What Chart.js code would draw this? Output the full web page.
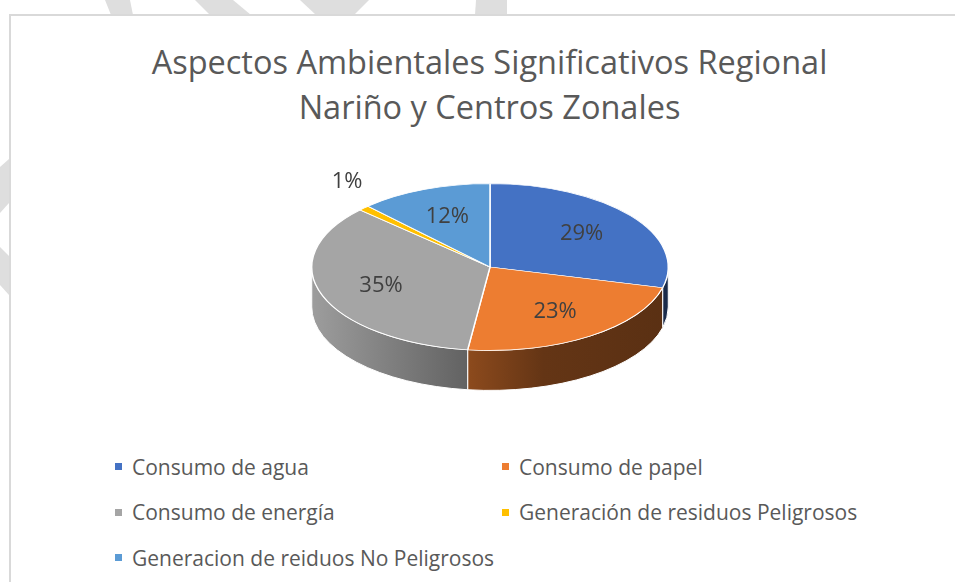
<!DOCTYPE html>
<html>
<head>
<meta charset="utf-8">
<script src="https://cdn.jsdelivr.net/npm/chart.js@4.4.1/dist/chart.umd.min.js"></script>
<style>
  html, body { margin: 0; padding: 0; background: #fff; width: 955px; height: 582px; overflow: hidden; font-family: "Open Sans", sans-serif; }
  #mark { position: absolute; left: 0; top: 0; }
  #box { position: absolute; left: 9px; top: 14px; width: 960px; height: 580px; border-top: 2px solid #d9d9d9; border-left: 2px solid #d9d9d9; box-sizing: border-box; background: #fff; }
  #title { position: absolute; left: 0; top: 39px; width: 979px; text-align: center; color: #595959; font-size: 32.5px; line-height: 45px; }
  #legend { position: absolute; left: 115px; top: 444px; display: grid; grid-template-columns: 387px auto; row-gap: 0; color: #595959; font-size: 21px; }
  #legend .item { display: flex; align-items: center; height: 45.5px; }
  #legend .sw { width: 7px; height: 7px; margin-right: 10px; }
  #pie { position: absolute; left: 300px; top: 77px; }
</style>
</head>
<body>
<svg id="mark" width="955" height="582">
  <g fill="#dedede">
    <polygon points="105,0 130,0 133,15 111,15" />
    <polygon points="195,0 233,0 251,15 210,15" />
    <polygon points="300,0 369,0 354,15 316,15" />
    <polygon points="476,0 507,0 507,15 475,15" />
    <polygon points="0,167 9,159 9,203 0,213" />
    <polygon points="0,247 9,256 9,295 0,285" />
  </g>
</svg>
<div id="box"></div>
<div id="title">Aspectos Ambientales Significativos Regional<br>Nariño y Centros Zonales</div>
<div id="legend"></div>
<canvas id="pie" width="380" height="380"></canvas>
<script>
const labels = ["Consumo de agua", "Consumo de papel", "Consumo de energía", "Generación de residuos Peligrosos", "Generacion de reiduos No Peligrosos"];
const values = [29, 23, 35, 1, 12];
const colors = ["#4472C4", "#ED7D31", "#A5A5A5", "#FFC000", "#5B9BD5"];

const TILT = 0.468, DEPTH = 40;
// side wall darkening from left to right of the pie
const shadeStops = [[0, 0.95], [0.43, 0.6], [0.65, 0.42], [1, 0.38]];

function shade(hex, f) {
  const n = parseInt(hex.slice(1), 16);
  const r = Math.round(((n >> 16) & 255) * f), g = Math.round(((n >> 8) & 255) * f), b = Math.round((n & 255) * f);
  return `rgb(${r},${g},${b})`;
}

function drawSide(ctx, a, base) {
  const ry = a.outerRadius * TILT;
  const segs = [];
  [[-2 * Math.PI, -Math.PI], [0, Math.PI], [2 * Math.PI, 3 * Math.PI]].forEach(([lo, hi]) => {
    const a0 = Math.max(a.startAngle, lo), a1 = Math.min(a.endAngle, hi);
    if (a1 > a0) segs.push([a0, a1]);
  });
  segs.forEach(([a0, a1]) => {
    ctx.beginPath();
    ctx.ellipse(a.x, a.y, a.outerRadius, ry, 0, a0, a1);
    ctx.ellipse(a.x, a.y + DEPTH, a.outerRadius, ry, 0, a1, a0, true);
    ctx.closePath();
    const g = ctx.createLinearGradient(a.x - a.outerRadius, 0, a.x + a.outerRadius, 0);
    shadeStops.forEach(([p, f]) => g.addColorStop(p, shade(base, f)));
    ctx.fillStyle = g; ctx.fill();
    ctx.strokeStyle = "#fff"; ctx.lineWidth = 1; ctx.stroke();
  });
}

const pie3d = {
  id: "pie3d",
  beforeDatasetDraw(chart, args) {
    const ctx = chart.ctx, arcs = args.meta.data;
    arcs.forEach((a, i) => drawSide(ctx, a, colors[i]));
    const { x, y } = arcs[0];
    ctx.save();
    ctx.translate(x, y); ctx.scale(1, TILT); ctx.translate(-x, -y);
  },
  afterDatasetDraw(chart) { chart.ctx.restore(); },
  afterDatasetsDraw(chart) {
    const ctx = chart.ctx, arcs = chart.getDatasetMeta(0).data;
    const total = values.reduce((s, v) => s + v, 0);
    ctx.save();
    ctx.font = "22px 'Open Sans'"; ctx.fillStyle = "#404040";
    ctx.textAlign = "center"; ctx.textBaseline = "middle";
    arcs.forEach((a, i) => {
      const pct = Math.round(values[i] / total * 100);
      const mid = (a.startAngle + a.endAngle) / 2;
      const out = pct < 3;
      const f = out ? 1.1 : 0.65;
      let px = a.x + Math.cos(mid) * a.outerRadius * f;
      let py = a.y + Math.sin(mid) * a.outerRadius * TILT * f;
      if (out) { px += Math.cos(mid) * 6; py += Math.sin(mid) * 12 - 12; }
      ctx.fillText(pct + "%", px, py);
    });
    ctx.restore();
  }
};

document.getElementById("legend").innerHTML = labels.map((l, i) =>
  `<div class="item"><span class="sw" style="background:${colors[i]}"></span>${l}</div>`).join("");

new Chart(document.getElementById("pie"), {
  type: "pie",
  data: { labels, datasets: [{ data: values, backgroundColor: colors, borderColor: "#fff", borderWidth: 1.5, clip: false }] },
  options: {
    responsive: false, animation: false, devicePixelRatio: 1,
    layout: { padding: 11 },
    plugins: { legend: { display: false }, tooltip: { enabled: false } }
  },
  plugins: [pie3d]
});
</script>
</body>
</html>
